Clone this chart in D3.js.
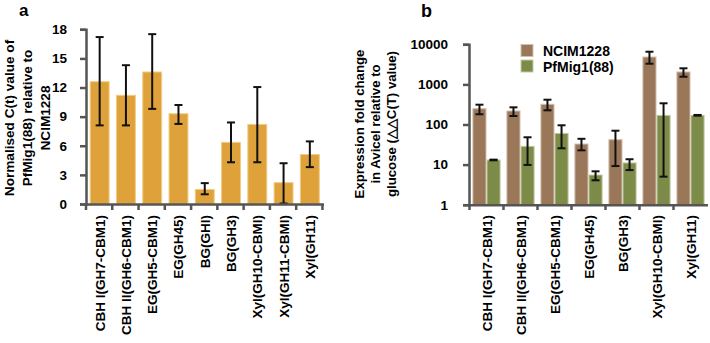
<!DOCTYPE html>
<html>
<head>
<meta charset="utf-8">
<script src="https://cdn.jsdelivr.net/npm/d3@7"></script>
<style>
  body { margin: 0; background: #fff; }
  svg text { font-family: Arial, "Liberation Sans", sans-serif; font-weight: bold; fill: #000; }
</style>
</head>
<body>
<div id="chart"></div>
<script>
// panel a data
var catsA = ["CBH I(GH7-CBM1)", "CBH II(GH6-CBM1)", "EG(GH5-CBM1)", "EG(GH45)", "BG(GHI)",
             "BG(GH3)", "Xyl(GH10-CBMI)", "Xyl(GH11-CBMI)", "Xyl(GH11)"];
var valA = [12.6, 11.2, 13.6, 9.3, 1.5, 6.35, 8.2, 2.2, 5.1];
var hiA  = [17.2, 14.3, 17.5, 10.2, 2.15, 8.4, 12.05, 4.2, 6.45];
var loA  = [8.1, 8.1, 9.8, 8.25, 1.0, 4.3, 4.3, 0.05, 3.8];
var ticksA = [0, 3, 6, 9, 12, 15, 18];

// panel b data
var catsB = ["CBH I(GH7-CBM1)", "CBH II(GH6-CBM1)", "EG(GH5-CBM1)", "EG(GH45)", "BG(GH3)",
             "Xyl(GH10-CBMI)", "Xyl(GH11)"];
var seriesB = ["NCIM1228", "PfMig1(88)"];
var ncimVal = [248, 217, 319, 32.6, 41.8, 4820, 2040];
var ncimHi  = [312, 268, 415, 44, 70, 6530, 2520];
var ncimLo  = [180, 163, 226, 22.7, 9.2, 3280, 1556];
var pfVal   = [13.0, 28.6, 60, 5.5, 11, 169, 169];
var pfHi    = [13.3, 48, 95.6, 6.8, 13.6, 338, 173];
var pfLo    = [12.8, 9.8, 25.5, 4.06, 7.3, 5.0, 166];
var ticksB = [1, 10, 100, 1000, 10000];

var w = 710, h = 343;
var axisColor = "#555";

var svg = d3.select("#chart").append("svg")
  .attr("width", w).attr("height", h);

// ---------- panel a ----------
var xA = d3.scaleBand().domain(catsA).range([86, 323.5]).paddingInner(0.28).paddingOuter(0.16);
var yA = d3.scaleLinear().domain([0, 18]).range([204, 29.3]);

var gA = svg.append("g");

gA.selectAll("rect").data(catsA).enter().append("rect")
  .attr("x", d => xA(d))
  .attr("y", (d, i) => yA(valA[i]))
  .attr("width", xA.bandwidth())
  .attr("height", (d, i) => yA(0) - yA(valA[i]))
  .attr("fill", "#DFA23B")
  .attr("stroke", "#F0CC85")
  .attr("stroke-width", 1);

// error bars
var errA = gA.selectAll(".err").data(catsA).enter().append("g").attr("class", "err")
  .attr("stroke", "#111").attr("stroke-width", 2);
errA.append("line")
  .attr("x1", d => xA(d) + xA.bandwidth() / 2).attr("x2", d => xA(d) + xA.bandwidth() / 2)
  .attr("y1", (d, i) => yA(hiA[i])).attr("y2", (d, i) => yA(loA[i]));
errA.append("line")
  .attr("x1", d => xA(d) + xA.bandwidth() / 2 - 4).attr("x2", d => xA(d) + xA.bandwidth() / 2 + 4)
  .attr("y1", (d, i) => yA(hiA[i])).attr("y2", (d, i) => yA(hiA[i]));
errA.append("line")
  .attr("x1", d => xA(d) + xA.bandwidth() / 2 - 4).attr("x2", d => xA(d) + xA.bandwidth() / 2 + 4)
  .attr("y1", (d, i) => yA(loA[i])).attr("y2", (d, i) => yA(loA[i]));

// y axis a
gA.append("g").attr("transform", "translate(86,0)")
  .call(d3.axisLeft(yA).tickValues(ticksA).tickSize(6).tickPadding(13));
// x axis a
gA.append("g").attr("transform", "translate(0,204)")
  .call(d3.axisBottom(xA).tickSize(0).tickFormat(""));
gA.append("g").selectAll("line").data(d3.range(catsA.length + 1)).enter().append("line")
  .attr("x1", i => 86 + i * xA.step()).attr("x2", i => 86 + i * xA.step())
  .attr("y1", 204).attr("y2", 210)
  .attr("stroke", axisColor).attr("stroke-width", 2.5);

gA.selectAll(".xlab").data(catsA).enter().append("text").attr("class", "xlab")
  .attr("transform", d => "translate(" + (xA(d) + xA.bandwidth() / 2 + 5) + ",215) rotate(-90)")
  .attr("text-anchor", "end")
  .style("font-size", "13.5px")
  .text(d => d);

// y title a
var titleA = ["Normalised C(t) value of", "PfMig1(88) relative to", "NCIM1228"];
gA.selectAll(".ytitle").data(titleA).enter().append("text").attr("class", "ytitle")
  .attr("transform", (d, i) => "translate(" + (14 + i * 18) + ",118) rotate(-90)")
  .attr("text-anchor", "middle")
  .style("font-size", "13.6px")
  .text(d => d);

gA.append("text").attr("x", 19).attr("y", 16).style("font-size", "17px").text("a");

// ---------- panel b ----------
var xB = d3.scaleBand().domain(catsB).range([469.5, 707.5]).paddingInner(0.2).paddingOuter(0.1);
var xSub = d3.scaleBand().domain(seriesB).range([0, xB.bandwidth()]).paddingInner(0.07);
var yB = d3.scaleLog().domain([1, 10000]).range([204.7, 44.3]);
var colorB = d3.scaleOrdinal().domain(seriesB).range(["#9A7759", "#7C8B48"]);
var edgeB = d3.scaleOrdinal().domain(seriesB).range(["#D2BFAE", "#C3CBA3"]);

var gB = svg.append("g");
var dataB = [ncimVal, pfVal], hiB = [ncimHi, pfHi], loB = [ncimLo, pfLo];

seriesB.forEach(function (s, k) {
  var grp = gB.append("g");
  grp.selectAll("rect").data(catsB).enter().append("rect")
    .attr("x", d => xB(d) + xSub(s))
    .attr("y", (d, i) => yB(dataB[k][i]))
    .attr("width", xSub.bandwidth())
    .attr("height", (d, i) => yB(1) - yB(dataB[k][i]))
    .attr("fill", colorB(s))
    .attr("stroke", edgeB(s))
    .attr("stroke-width", 1);
  var e = grp.selectAll(".err").data(catsB).enter().append("g")
    .attr("stroke", "#111").attr("stroke-width", 2);
  var cx = d => xB(d) + xSub(s) + xSub.bandwidth() / 2;
  e.append("line").attr("x1", cx).attr("x2", cx)
    .attr("y1", (d, i) => yB(hiB[k][i])).attr("y2", (d, i) => yB(loB[k][i]));
  e.append("line").attr("x1", d => cx(d) - 4).attr("x2", d => cx(d) + 4)
    .attr("y1", (d, i) => yB(hiB[k][i])).attr("y2", (d, i) => yB(hiB[k][i]));
  e.append("line").attr("x1", d => cx(d) - 4).attr("x2", d => cx(d) + 4)
    .attr("y1", (d, i) => yB(loB[k][i])).attr("y2", (d, i) => yB(loB[k][i]));
});

gB.append("g").attr("transform", "translate(469,0)")
  .call(d3.axisLeft(yB).tickValues(ticksB).tickFormat(d3.format("d")).tickSize(6).tickPadding(15));
gB.append("g").attr("transform", "translate(0,204.7)")
  .call(d3.axisBottom(xB).tickSize(0).tickFormat(""));
gB.append("g").selectAll("line").data(d3.range(catsB.length)).enter().append("line")
  .attr("x1", i => 469.5 + i * xB.step()).attr("x2", i => 469.5 + i * xB.step())
  .attr("y1", 204.7).attr("y2", 210)
  .attr("stroke", axisColor).attr("stroke-width", 2.5);

gB.selectAll(".xlab").data(catsB).enter().append("text").attr("class", "xlab")
  .attr("transform", d => "translate(" + (xB(d) + xB.bandwidth() / 2 + 5) + ",215) rotate(-90)")
  .attr("text-anchor", "end")
  .style("font-size", "13.5px")
  .text(d => d);

var titleB = ["Expression fold change", "in Avicel relative to", "glucose (\u25B3\u25B3C(T) value)"];
gB.selectAll(".ytitle").data(titleB).enter().append("text").attr("class", "ytitle")
  .attr("transform", (d, i) => "translate(" + (364 + i * 16) + ",124) rotate(-90)")
  .attr("text-anchor", "middle")
  .style("font-size", "13.2px")
  .text(d => d);

gB.append("text").attr("x", 421).attr("y", 17).style("font-size", "18px").text("b");

// legend
var leg = gB.selectAll(".leg").data(seriesB).enter().append("g")
  .attr("transform", (d, i) => "translate(521," + (44.5 + i * 15.5) + ")");
leg.append("rect").attr("width", 12).attr("height", 12)
  .attr("fill", d => colorB(d)).attr("stroke", d => edgeB(d));
leg.append("text").attr("x", 22).attr("y", 11.5).style("font-size", "14px").text(d => d);

// axis styling
svg.selectAll(".domain").attr("stroke", axisColor).attr("stroke-width", 2.5);
svg.selectAll(".tick line").attr("stroke", axisColor).attr("stroke-width", 2.5);
svg.selectAll(".tick text").style("font-size", "13.5px").attr("fill", "#000");
</script>
</body>
</html>
